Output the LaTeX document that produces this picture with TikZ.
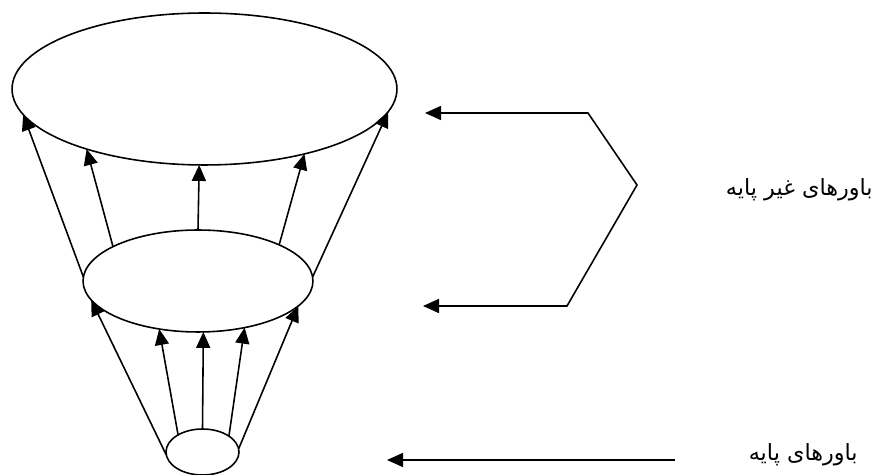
\documentclass[tikz,border=0pt]{standalone}
\usepackage{fontspec}
\newfontfamily\persianfont[Script=Arabic]{DejaVu Sans}
\TeXXeTstate=1
\usetikzlibrary{shapes.geometric, arrows.meta}

\begin{document}
\begin{tikzpicture}[
    x=0.02cm, y=-0.02cm,
    % Ellipses of beliefs
    belief/.style={ellipse, draw, line width=0.9pt, inner sep=0pt, outer sep=0pt},
    % Arrows
    arr/.style={line width=0.9pt, -{Triangle[length=3.2mm,width=2.8mm]}},
    bracketarr/.style={line width=0.9pt, {Triangle[length=3.2mm,width=2.8mm]}-{Triangle[length=3.2mm,width=2.8mm]}},
    lbl/.style={font=\persianfont\fontsize{12.7}{15}\selectfont, anchor=east, inner sep=0pt}
]
\useasboundingbox (0,0) rectangle (883,475);

% ===============================
% Funnel of beliefs
% ===============================
\node[belief, minimum width=7.7cm, minimum height=3.04cm] (top) at (204.5,89) {};
\node[belief, minimum width=4.6cm, minimum height=2.04cm] (mid) at (198,281) {};
\node[belief, minimum width=1.46cm, minimum height=0.92cm] (base) at (202.5,452) {};

% Base to middle
\draw[arr] (base.185) -- (mid.190);
\draw[arr] (base.145) -- (mid.231);
\draw[arr] (base.90) -- (mid.276);
\draw[arr] (base.31) -- (mid.315);
\draw[arr] (base.5) -- (mid.346);

% Middle to top
\draw[arr] (mid.178) -- (top.188);
\draw[arr] (mid.158) -- (top.207);
\draw[arr] (mid.90) -- (top.266);
\draw[arr] (mid.24) -- (top.327);
\draw[arr] (mid.2) -- (top.353);

% ===============================
% Labels on the right
% ===============================
\node[lbl] (nonbasic) at (873,190) {\beginR باورهای غیر پایه\endR};
\node[lbl] (basic) at (858,455) {\beginR باورهای پایه\endR};

\coordinate (tiptop) at (425,113);
\coordinate (bra) at (588,113);
\coordinate (brb) at (637,185);
\coordinate (brc) at (567,306);
\coordinate (tipmid) at (423,306);
\draw[bracketarr] (tiptop) -- (bra) -- (brb) -- (brc) -- (tipmid);

\coordinate (basetail) at (675,460);
\coordinate (basetip) at (387,460);
\draw[arr] (basetail) -- (basetip);

\end{tikzpicture}
\end{document}
